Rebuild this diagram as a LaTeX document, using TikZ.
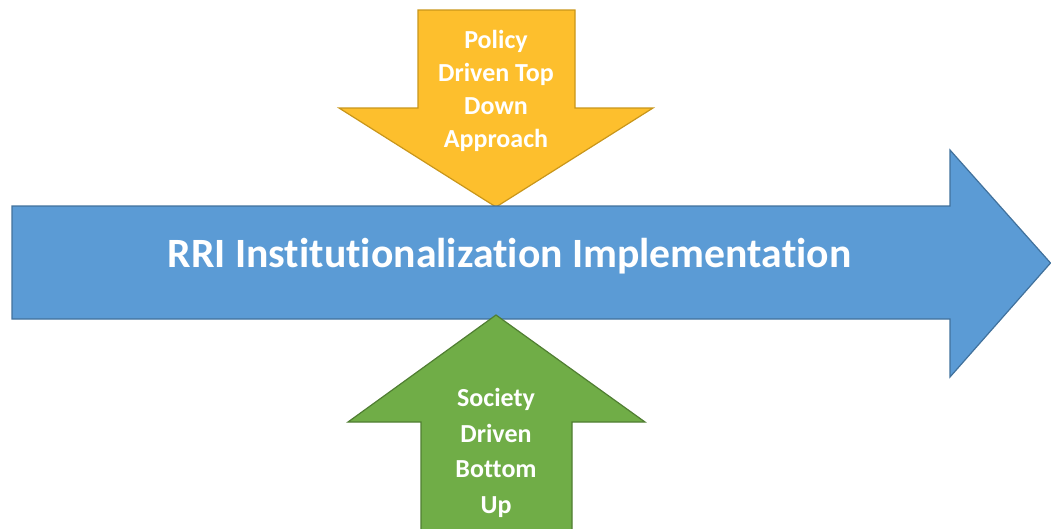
\documentclass[tikz,border=0pt]{standalone}
\usepackage{fontspec}
\setmainfont{Carlito}[Ligatures=NoCommon]
\definecolor{bluefill}{HTML}{5B9BD5}
\definecolor{blueline}{HTML}{41719C}
\definecolor{goldfill}{HTML}{FDBF2D}
\definecolor{goldline}{HTML}{C9961A}
\definecolor{greenfill}{HTML}{70AD47}
\definecolor{greenline}{HTML}{507E32}
\begin{document}
\begin{tikzpicture}[x=1pt,y=-1pt,
  shapeline/.style={line width=1.2pt, line join=miter},
  lbl/.style={text=white, font=\bfseries\fontsize{26}{33}\selectfont, align=center, inner sep=0pt}]
\useasboundingbox (0,0) rectangle (1051,528);
% yellow down arrow
\filldraw[shapeline, fill=goldfill, draw=goldline]
  (418,10) -- (575,10) -- (575,108) -- (653,108) -- (496,207) -- (339,108) -- (418,108) -- cycle;
% blue right arrow
\filldraw[shapeline, fill=bluefill, draw=blueline]
  (12,206) -- (950,206) -- (950,150) -- (1050.5,263) -- (950,377) -- (950,319) -- (12,319) -- cycle;
% green up arrow
\filldraw[shapeline, fill=greenfill, draw=greenline]
  (421,530) -- (421,422) -- (348,422) -- (496,315) -- (645,422) -- (572,422) -- (572,530);
\node[lbl] (top) at (496,90.5) {Policy\\Driven Top\\Down\\Approach};
\node[lbl, font=\bfseries\fontsize{26}{35.5}\selectfont] (bottom) at (496,453) {Society\\Driven\\Bottom\\Up};
\node[lbl, font=\bfseries\fontsize{41.7}{48}\selectfont] (main) at (509.5,256) {RRI Institutionalization Implementation};
\end{tikzpicture}
\end{document}
